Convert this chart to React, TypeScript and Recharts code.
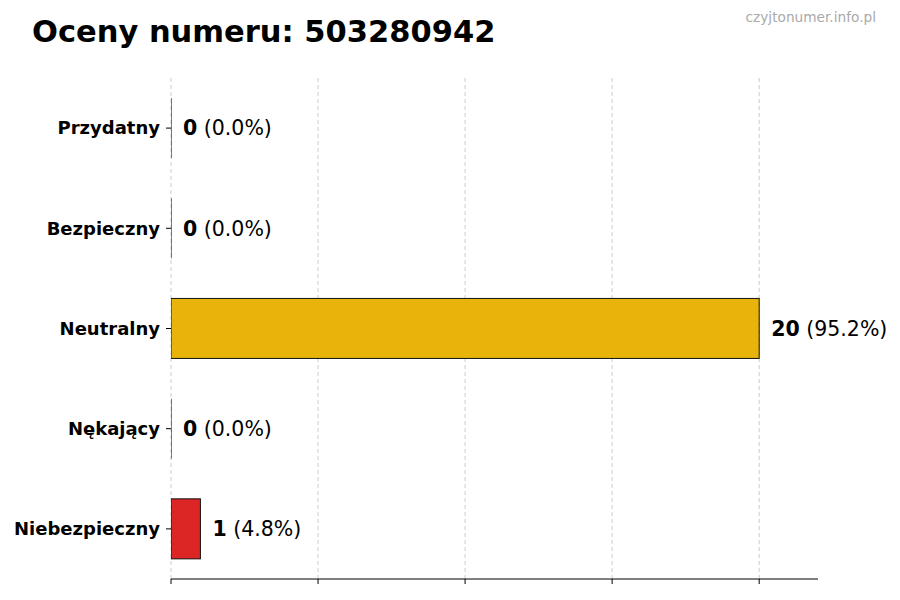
import React from "react";
import { BarChart, Bar, XAxis, YAxis, CartesianGrid, LabelList, Cell } from "recharts";

const categories = ["Przydatny", "Bezpieczny", "Neutralny", "Nękający", "Niebezpieczny"];
const counts = [0, 0, 20, 0, 1];
const colors = ["#2ca02c", "#1f77b4", "#E8B40B", "#ff7f0e", "#DC2626"];
const xTicks = [0, 5, 10, 15, 20];

const total = counts.reduce((a, b) => a + b, 0);
const data = categories.map((name, i) => ({
  name,
  value: counts[i],
  pct: total ? ((counts[i] / total) * 100).toFixed(1) : "0.0",
}));

const FONT = "'DejaVu Sans', sans-serif";

const BarShape = (props: any) => {
  const { x, y, width, height, fill } = props;
  if (!width || width < 0.5) {
    return <line x1={x} x2={x} y1={y} y2={y + height} stroke="#000" strokeWidth={1} />;
  }
  return <rect x={x} y={y} width={width} height={height} fill={fill} stroke="#111" strokeWidth={1} />;
};

const ValueLabel = (props: any) => {
  const { x, y, width, height, index } = props;
  const d = data[index];
  return (
    <text x={x + width + 12} y={y + height / 2} dy="0.36em" fontFamily={FONT} fontSize={20.5} fill="#000">
      <tspan fontWeight="bold">{d.value}</tspan>
      <tspan> ({d.pct}%)</tspan>
    </text>
  );
};

const EmptyTick = () => <g />;

const gridGen = (props: any) => {
  const { offset } = props;
  const left = offset.left;
  const w = offset.width;
  return xTicks.map((t) => left + (t / 22) * w);
};

export default function App() {
  return (
    <div style={{ position: "absolute", left: 0, top: 0, width: 900, height: 600, background: "#fff" }}>
      <BarChart
        width={900}
        height={600}
        data={data}
        layout="vertical"
        margin={{ top: 78, right: 82, bottom: 0, left: 0 }}
        barCategoryGap="20%"
      >
        <text x={32} y={31} dy="0.36em" fontFamily={FONT} fontSize={30.5} fontWeight="bold" fill="#000">
          Oceny numeru: 503280942
        </text>
        <text x={876} y={17} dy="0.36em" textAnchor="end" fontFamily={FONT} fontSize={13.7} fill="#aaaaaa">
          czyjtonumer.info.pl
        </text>
        <CartesianGrid
          horizontal={false}
          vertical={true}
          stroke="#cccccc"
          strokeDasharray="4 3"
          verticalCoordinatesGenerator={gridGen}
        />
        <XAxis
          type="number"
          domain={[0, 22]}
          ticks={xTicks}
          tick={EmptyTick}
          tickSize={5}
          height={21}
          axisLine={{ stroke: "#000" }}
          tickLine={{ stroke: "#000" }}
          allowDataOverflow
        />
        <YAxis
          type="category"
          dataKey="name"
          width={171}
          axisLine={false}
          tickLine={{ stroke: "#000" }}
          tickSize={5}
          tickMargin={6}
          tick={{ fontFamily: FONT, fontSize: 18, fontWeight: "bold", fill: "#000" }}
        />
        <Bar dataKey="value" isAnimationActive={false} shape={BarShape}>
          {data.map((d, i) => (
            <Cell key={d.name} fill={colors[i]} />
          ))}
          <LabelList dataKey="value" content={ValueLabel} />
        </Bar>
      </BarChart>
    </div>
  );
}
